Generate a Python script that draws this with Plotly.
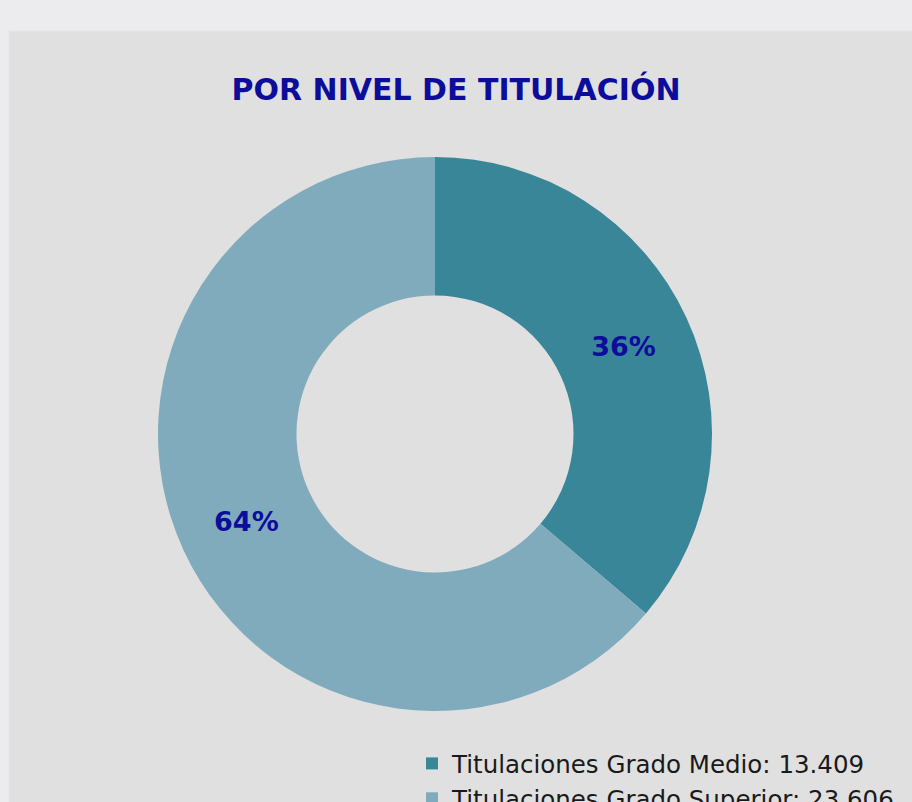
import plotly.graph_objects as go

labels = ["Titulaciones Grado Medio", "Titulaciones Grado Superior"]
values = [13409, 23606]
colors = ["#3a8699", "#80abbc"]
title_text = "POR NIVEL DE TITULACIÓN"

legend_names = [f"{l}: {v:,}".replace(",", ".") for l, v in zip(labels, values)]

fig = go.Figure(go.Pie(
    labels=legend_names,
    values=values,
    hole=0.5,
    sort=False,
    direction="clockwise",
    rotation=0,
    marker=dict(colors=colors, line=dict(width=0)),
    texttemplate="%{percent:.0%}",
    textposition="inside",
    insidetextorientation="horizontal",
    textfont=dict(family="DejaVu Sans", size=27, color="#0d0d9b", weight="bold"),
    domain=dict(x=[158/912, 712/912], y=[1-711/802, 1-157/802]),
    hoverinfo="label+percent",
))

fig.update_layout(
    width=912, height=802,
    margin=dict(l=0, r=0, t=0, b=0, autoexpand=False),
    paper_bgcolor="#ececee",
    plot_bgcolor="#e0e0e0",
    shapes=[dict(type="rect", xref="paper", yref="paper", x0=9/912, x1=1.01, y0=-0.01, y1=1-31/802,
                 fillcolor="#e0e0e0", line=dict(width=1, color="#e6e6e8"), layer="below")],
    title=dict(text=title_text, x=0.5, xanchor="center", y=1-89/802, yanchor="middle",
               font=dict(family="DejaVu Sans", size=30, color="#0d0d9b", weight="bold")),
    showlegend=True,
    legend=dict(x=412/912, xanchor="left", y=1-741/802, yanchor="top",
                bgcolor="rgba(0,0,0,0)", font=dict(family="DejaVu Sans", size=24.5, color="#1a1a1a"),
                tracegroupgap=0),
)

fig.write_html("out.html", config={"displayModeBar": False},
               post_script="document.body.style.margin='0';document.body.style.overflow='hidden';")
